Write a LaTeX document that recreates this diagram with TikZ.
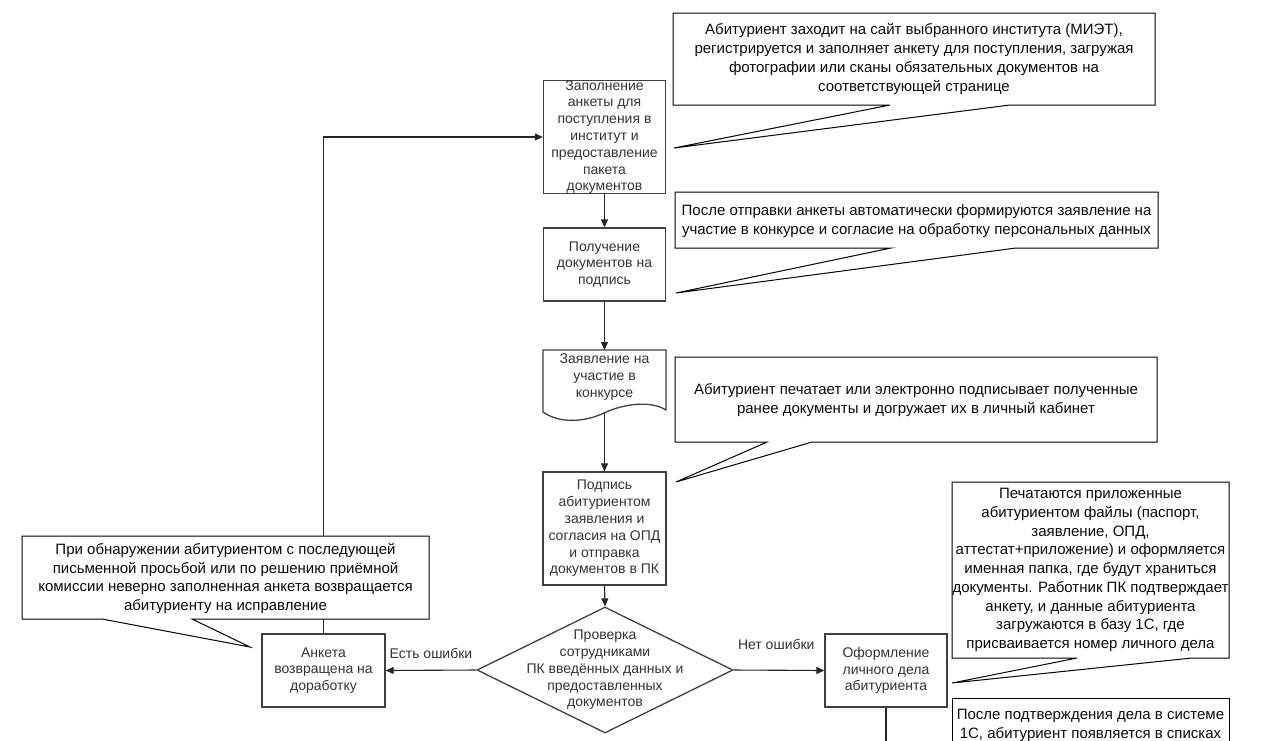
\documentclass[tikz,border=0pt]{standalone}
\usepackage{fontspec}
\setmainfont{Liberation Sans}
\usetikzlibrary{arrows.meta,shapes.geometric}
\definecolor{boxline}{HTML}{404040}
\definecolor{boxtext}{HTML}{333333}
\definecolor{calltext}{HTML}{0A0A0A}
\newcommand\bxfont{\fontsize{14}{16.8}\selectfont}
\newcommand\clfont{\fontsize{15}{18.7}\selectfont}
\begin{document}
\begin{tikzpicture}[x=1pt,y=-1pt,
  procbox/.style={draw=boxline,line width=1.3pt,fill=white,inner sep=0pt,align=center,font=\bxfont,text=boxtext},
  plain/.style={inner sep=0pt,align=center,font=\bxfont,text=boxtext},
  flow/.style={draw=black!85,line width=1.1pt,-{Triangle[length=8pt,width=7pt]}},
  link/.style={draw=black!85,line width=1.1pt},
  callline/.style={draw=black,line width=1pt,fill=white},
  calltxt/.style={inner sep=0pt,align=center,font=\clfont,text=calltext},
  lbl/.style={inner sep=0pt,font=\bxfont,text=boxtext}]
\useasboundingbox (0,0) rectangle (1264,740);
\fill[white] (0,0) rectangle (1264,740);

% process nodes
\node[procbox,minimum width=122pt,minimum height=112pt] (A) at (604.5,137)
  {Заполнение\\анкеты для\\поступления в\\институт и\\предоставление\\пакета\\документов};
\node[procbox,minimum width=122pt,minimum height=73pt] (B) at (604.5,264.5)
  {Получение\\документов на\\подпись};
% document shape
\draw[draw=boxline,line width=1.3pt,fill=white] (543,350) -- (666,350) -- (666,410)
  .. controls (650,400) and (623,404) .. (604,413)
  .. controls (585,422) and (560,424) .. (543,412) -- cycle;
\node[plain] (C) at (604.5,377) {Заявление на\\участие в\\конкурсе};
\coordinate (Cb) at (604.5,413);
\node[procbox,minimum width=123pt,minimum height=113pt] (D) at (604.5,528.5)
  {Подпись\\абитуриентом\\заявления и\\согласия на ОПД\\и отправка\\документов в ПК};
\node[diamond,draw=boxline,line width=1.3pt,fill=white,inner sep=0pt,
  minimum width=256pt,minimum height=126pt] (E) at (605,670) {};
\node[plain] (Et) at (E.center) {Проверка\\сотрудниками\\ПК введённых данных и\\предоставленных\\документов};
\node[procbox,minimum width=123pt,minimum height=73pt] (F) at (323.5,670.5)
  {Анкета\\возвращена на\\доработку};
\node[procbox,minimum width=122pt,minimum height=73pt] (G) at (886,670.5)
  {Оформление\\личного дела\\абитуриента};
\coordinate (Gend) at (886,760);

% connectors
\draw[flow] (A.south) -- (B.north);
\draw[flow] (B.south) -- (B.south |- 350,350);
\draw[flow] (Cb) -- (D.north);
\draw[flow] (D.south) -- (E.north);
\draw[flow] (E.west) -- (F.east) node[lbl,pos=0.5,above=11pt] (L1) {Есть ошибки};
\draw[flow] (E.east) -- (G.west) node[lbl,pos=0.47,above=20pt] (L2) {Нет ошибки};
\draw[flow] (F.north) |- (A.west);
\draw[link] (G.south) -- (Gend);

% callouts
\draw[callline] (673,13) -- (1155,13) -- (1155,105) -- (1010,105) -- (674,148) -- (890,105) -- (673,105) -- cycle;
\node[calltxt] (c1) at (914,59) {Абитуриент заходит на сайт выбранного института (МИЭТ),\\регистрируется и заполняет анкету для поступления, загружая\\фотографии или сканы обязательных документов на\\соответствующей странице};

\draw[callline] (675,192) -- (1158,192) -- (1158,248) -- (1016,248) -- (676,293) -- (891,248) -- (675,248) -- cycle;
\node[calltxt] (c2) at (916.5,221) {После отправки анкеты автоматически формируются заявление на\\участие в конкурсе и согласие на обработку персональных данных};

\draw[callline] (675,357) -- (1157,357) -- (1157,442) -- (812,442) -- (676,482) -- (767,442) -- (675,442) -- cycle;
\node[calltxt] (c3) at (916,400) {Абитуриент печатает или электронно подписывает полученные\\ранее документы и догружает их в личный кабинет};

\draw[callline] (22,536) -- (429,536) -- (429,619) -- (192,619) -- (250,647) -- (102,619) -- (22,619) -- cycle;
\node[calltxt] (c5) at (225.5,578.5) {При обнаружении абитуриентом с последующей\\письменной просьбой или по решению приёмной\\комиссии неверно заполненная анкета возвращается\\абитуриенту на исправление};

\draw[callline] (952,482) -- (1229,482) -- (1229,658) -- (1192,658) -- (952,683) -- (1077,658) -- (952,658) -- cycle;
\node[calltxt] (c6) at (1090.5,570) {Печатаются приложенные\\абитуриентом файлы (паспорт,\\заявление, ОПД,\\аттестат+приложение) и оформляется\\именная папка, где будут храниться\\документы. Работник ПК подтверждает\\анкету, и данные абитуриента\\загружаются в базу 1С, где\\присваивается номер личного дела};

\draw[callline] (952,760) -- (952,698) -- (1229,698) -- (1229,760);
\node[calltxt,anchor=north] (c7) at (1090.5,709) {После подтверждения дела в системе\\1С, абитуриент появляется в списках};
\end{tikzpicture}
\end{document}
